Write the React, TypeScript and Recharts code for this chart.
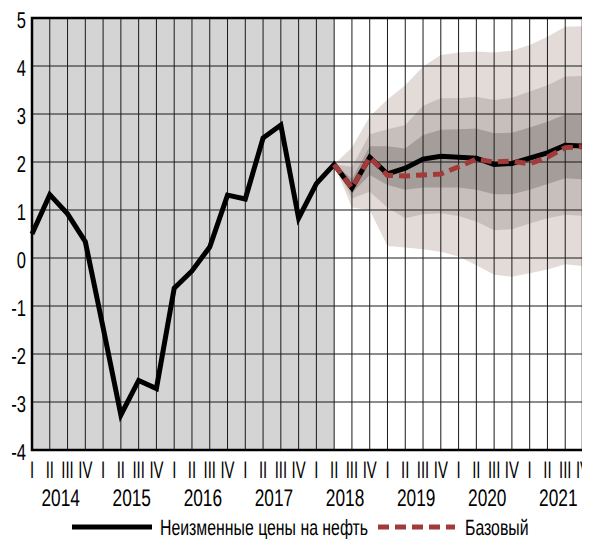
import React from 'react';
import {
  ComposedChart,
  Line,
  Area,
  XAxis,
  YAxis,
  CartesianGrid,
  ReferenceArea,
  Legend,
} from 'recharts';

// ---- data ----
const quarterLabels = ['I', 'II', 'III', 'IV'];
const years = [2014, 2015, 2016, 2017, 2018, 2019, 2020, 2021];
const yTicks = [-4, -3, -2, -1, 0, 1, 2, 3, 4, 5];

// Неизменные цены на нефть (2014 Q1 … 2021 Q4)
const actual = [
  0.5, 1.32, 0.92, 0.34, -1.45, -3.27, -2.55, -2.72,
  -0.63, -0.27, 0.23, 1.31, 1.23, 2.5, 2.77, 0.83,
  1.55, 1.95, 1.46, 2.1, 1.75, 1.87, 2.06, 2.12,
  2.1, 2.08, 1.95, 1.97, 2.08, 2.19, 2.35, 2.33,
];

// forecast section starts at 2018 Q2 (index 17)
const forecastStart = 17;
const historyEnd = 17;

// Базовый
const baseline = [1.95, 1.46, 2.1, 1.72, 1.71, 1.73, 1.75, 1.9, 2.06, 2.0, 2.02, 1.96, 2.1, 2.3, 2.32];

// fan bands (upper / lower bounds)
const outerHigh = [1.95, 2.3, 2.95, 3.3, 3.6, 3.99, 4.23, 4.28, 4.3, 4.28, 4.32, 4.44, 4.61, 4.82, 4.83];
const midHigh = [1.95, 1.9, 2.58, 2.68, 2.77, 3.17, 3.33, 3.33, 3.36, 3.29, 3.34, 3.47, 3.6, 3.78, 3.79];
const innerHigh = [1.95, 1.65, 2.33, 2.33, 2.28, 2.56, 2.67, 2.68, 2.7, 2.6, 2.61, 2.72, 2.84, 2.99, 2.99];
const innerLow = [1.95, 1.35, 1.73, 1.52, 1.42, 1.47, 1.47, 1.47, 1.42, 1.33, 1.33, 1.42, 1.54, 1.66, 1.64];
const midLow = [1.95, 1.24, 1.38, 1.05, 0.83, 0.91, 0.93, 0.875, 0.76, 0.58, 0.6, 0.72, 0.83, 0.9, 0.88];
const outerLow = [1.95, 1.05, 1.0, 0.25, 0.22, 0.18, 0.13, 0.03, -0.15, -0.35, -0.39, -0.32, -0.24, -0.13, -0.17];

const seriesNames = { actual: 'Неизменные цены на нефть', base: 'Базовый' };

const data = actual.map((v, i) => {
  const j = i - forecastStart;
  const f = j >= 0;
  return {
    idx: i,
    actual: v,
    base: f ? baseline[j] : null,
    outer: f ? [outerLow[j], outerHigh[j]] : null,
    mid: f ? [midLow[j], midHigh[j]] : null,
    inner: f ? [innerLow[j], innerHigh[j]] : null,
  };
});

const quarterTicks = actual.map((_, i) => i);
const yearTicks = years.map((_, i) => i * 4 + 1.5);
const lastIdx = actual.length - 1;

const FONT = '"Liberation Sans", Arial, sans-serif';
const SX = 0.72;
const textStyle = { textRendering: 'geometricPrecision' as const };

const YTick = (props: any) => {
  const { x, y, payload } = props;
  return (
    <g transform={`translate(${x + 2},${y + 10})`}>
      <text x={0} y={0} textAnchor="end" fontFamily={FONT} fontSize={23} fill="#000" style={textStyle} transform={`scale(${SX},1)`}>
        {payload.value}
      </text>
    </g>
  );
};

const QTick = (props: any) => {
  const { x, y, payload } = props;
  return (
    <g transform={`translate(${x},${y + 20})`}>
      <text x={0} y={0} textAnchor="middle" fontFamily={FONT} fontSize={24} fill="#000" style={textStyle} transform="scale(0.62,1)">
        {quarterLabels[payload.value % 4]}
      </text>
    </g>
  );
};

const YearTick = (props: any) => {
  const { x, y, payload } = props;
  const yi = Math.round((payload.value - 1.5) / 4);
  return (
    <g transform={`translate(${x + 2},${y + 18})`}>
      <text x={0} y={0} textAnchor="middle" fontFamily={FONT} fontSize={24} fill="#000" style={textStyle} transform={`scale(0.72,1)`}>
        {years[yi]}
      </text>
    </g>
  );
};

const LegendContent = () => (
  <svg width={582} height={30}>
    <line x1={64} x2={144} y1={14} y2={14} stroke="#000" strokeWidth={5} />
    <text x={152} y={22} fontFamily={FONT} fontSize={22} fill="#000" style={textStyle} transform={`translate(${152 * (1 - SX)},0) scale(${SX},1)`}>
      {seriesNames.actual}
    </text>
    <line x1={370} x2={447} y1={14} y2={14} stroke="#a33a3a" strokeWidth={5} strokeDasharray="11 6" />
    <text x={457} y={22} fontFamily={FONT} fontSize={22} fill="#000" style={textStyle} transform={`translate(${457 * (1 - SX)},0) scale(${SX},1)`}>
      {seriesNames.base}
    </text>
  </svg>
);

export default function App() {
  return (
    <ComposedChart
      width={582}
      height={531}
      data={data}
      margin={{ top: 10, right: 7, left: 0, bottom: 29 }}
    >
      <XAxis
        dataKey="idx"
        type="number"
        domain={[0, lastIdx]}
        ticks={quarterTicks}
        interval={0}
        axisLine={false}
        tickLine={false}
        height={30}
        tick={<QTick />}
        allowDecimals={false}
      />
      <XAxis
        xAxisId="years"
        dataKey="idx"
        type="number"
        domain={[0, lastIdx]}
        ticks={yearTicks}
        interval={0}
        axisLine={false}
        tickLine={false}
        height={30}
        tick={<YearTick />}
      />
      <YAxis
        type="number"
        domain={[-4, 5]}
        ticks={yTicks}
        interval={0}
        axisLine={false}
        tickLine={false}
        width={24}
        tick={<YTick />}
      />
      <ReferenceArea x1={0} x2={historyEnd} y1={-4} y2={5} fill="#d4d4d4" fillOpacity={1} stroke="none" zIndex={50} />
      <Area dataKey="outer" type="linear" stroke="none" fill="#e3dbd8" fillOpacity={1} isAnimationActive={false} dot={false} activeDot={false} legendType="none" zIndex={60} />
      <Area dataKey="mid" type="linear" stroke="none" fill="#c8bfbc" fillOpacity={1} isAnimationActive={false} dot={false} activeDot={false} legendType="none" zIndex={61} />
      <Area dataKey="inner" type="linear" stroke="none" fill="#a59d9a" fillOpacity={1} isAnimationActive={false} dot={false} activeDot={false} legendType="none" zIndex={62} />
      <CartesianGrid stroke="#1a1a1a" strokeWidth={1} zIndex={150} />
      <Line dataKey="actual" type="linear" stroke="#000" strokeWidth={5} dot={false} activeDot={false} isAnimationActive={false} name={seriesNames.actual} zIndex={400} />
      <Line dataKey="base" type="linear" stroke="#a33a3a" strokeWidth={5} strokeDasharray="11 6" dot={false} activeDot={false} isAnimationActive={false} name={seriesNames.base} zIndex={410} />
      <ReferenceArea x1={0} x2={lastIdx} y1={-4} y2={5} fill="none" stroke="#000" strokeWidth={2.5} zIndex={450} />
      <Legend
        layout="horizontal"
        verticalAlign="middle"
        align="center"
        content={<LegendContent />}
        wrapperStyle={{ top: 505, left: 0, width: 582, height: 30 }}
      />
    </ComposedChart>
  );
}
